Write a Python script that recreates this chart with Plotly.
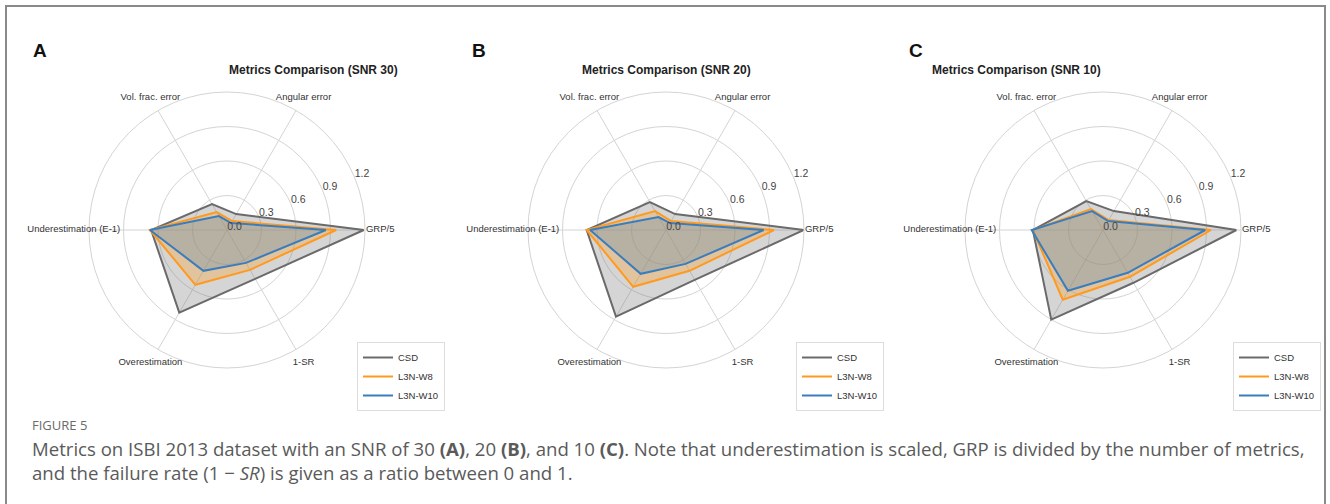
import plotly.graph_objects as go

categories = ["GRP/5", "Angular error", "Vol. frac. error", "Underestimation (E-1)", "Overestimation", "1-SR"]
methods = ["CSD", "L3N-W8", "L3N-W10"]

# SNR 30 (A)
snr30_csd = [1.19, 0.16, 0.26, 0.66, 0.83, 0.49]
snr30_w8 = [0.95, 0.09, 0.18, 0.67, 0.55, 0.40]
snr30_w10 = [0.86, 0.07, 0.14, 0.67, 0.41, 0.33]
# SNR 20 (B)
snr20_csd = [1.20, 0.16, 0.28, 0.69, 0.87, 0.50]
snr20_w8 = [0.94, 0.09, 0.19, 0.69, 0.57, 0.41]
snr20_w10 = [0.85, 0.07, 0.13, 0.66, 0.44, 0.34]
# SNR 10 (C)
snr10_csd = [1.16, 0.19, 0.29, 0.61, 0.90, 0.53]
snr10_w8 = [0.94, 0.10, 0.21, 0.61, 0.70, 0.47]
snr10_w10 = [0.89, 0.09, 0.19, 0.62, 0.61, 0.43]

panel_titles = ["Metrics Comparison (SNR 30)", "Metrics Comparison (SNR 20)", "Metrics Comparison (SNR 10)"]
panel_letters = ["A", "B", "C"]
radial_ticks = [0.0, 0.3, 0.6, 0.9, 1.2]
radial_ticktext = ["0.0", "0.3", "0.6", "0.9", "1.2"]
r_max = 1.2
label_r = r_max * 1.11          # category labels centred just outside the outer ring
rlabel_angle = 22.5             # radial tick labels direction (degrees)
rlabel_pad = 0.07               # radial tick labels offset beyond their ring
overlay_max = 1.35

panels = [
    [snr30_csd, snr30_w8, snr30_w10],
    [snr20_csd, snr20_w8, snr20_w10],
    [snr10_csd, snr10_w8, snr10_w10],
]

line_colors = ["#6a6a6a", "#ff9a1f", "#3a7dbd"]
fill_colors = ["rgba(128,128,128,0.33)", "rgba(255,154,31,0.30)", "rgba(58,125,189,0.25)"]

W, H = 1330, 504
centers_x = [227, 666, 1103]
center_y = 230
R = 138
FONT = "Liberation Sans, Arial, sans-serif"

fig = go.Figure()
polar_names = ["polar", "polar2", "polar3"]
overlay_names = ["polar4", "polar5", "polar6"]
legend_names = ["legend", "legend2", "legend3"]
cat_angles = [i * 360.0 / len(categories) for i in range(len(categories))]

for p, series in enumerate(panels):
    for m, vals in enumerate(series):
        r = list(vals) + [vals[0]]
        th = categories + [categories[0]]
        fig.add_trace(go.Scatterpolar(
            r=r, theta=th, subplot=polar_names[p], mode="lines",
            fill="toself", fillcolor=fill_colors[m], line=dict(width=0, color=line_colors[m]),
            showlegend=False, hoverinfo="skip"))
        fig.add_trace(go.Scatterpolar(
            r=r, theta=th, subplot=polar_names[p], mode="lines",
            line=dict(width=2, color=line_colors[m]), name=methods[m],
            legend=legend_names[p], showlegend=True))
    # category labels (overlay polar with a larger range)
    fig.add_trace(go.Scatterpolar(
        r=[label_r] * len(categories), theta=cat_angles, subplot=overlay_names[p],
        mode="text", text=categories, textposition="middle center", cliponaxis=False,
        textfont=dict(family=FONT, size=9.5, color="#333333"),
        showlegend=False, hoverinfo="skip"))
    # radial tick labels
    fig.add_trace(go.Scatterpolar(
        r=[t + rlabel_pad for t in radial_ticks], theta=[rlabel_angle] * len(radial_ticks),
        subplot=overlay_names[p], mode="text", text=radial_ticktext,
        textposition="middle center", cliponaxis=False,
        textfont=dict(family=FONT, size=10.5, color="#444444"),
        showlegend=False, hoverinfo="skip"))

layout = dict(
    width=W, height=H, margin=dict(l=0, r=0, t=0, b=0),
    paper_bgcolor="white", plot_bgcolor="white",
    font=dict(family=FONT),
)
annotations = []
for p in range(3):
    cx = centers_x[p]
    layout[polar_names[p]] = dict(
        domain=dict(x=[(cx - R) / W, (cx + R) / W],
                    y=[(H - center_y - R) / H, (H - center_y + R) / H]),
        bgcolor="white",
        radialaxis=dict(range=[0, r_max], tickvals=radial_ticks, showticklabels=False,
                        showline=False, ticks="", gridcolor="#d4d4d4", gridwidth=1),
        angularaxis=dict(direction="counterclockwise", rotation=0, ticks="",
                         gridcolor="#d4d4d4", linecolor="#d4d4d4", showline=True,
                         showticklabels=False),
    )
    Ro = R * overlay_max / r_max
    layout[overlay_names[p]] = dict(
        domain=dict(x=[(cx - Ro) / W, (cx + Ro) / W],
                    y=[(H - center_y - Ro) / H, (H - center_y + Ro) / H]),
        bgcolor="rgba(0,0,0,0)",
        radialaxis=dict(range=[0, overlay_max], visible=False),
        angularaxis=dict(direction="counterclockwise", rotation=0, visible=False),
    )
    layout[legend_names[p]] = dict(
        x=(cx + 130) / W, y=(H - 342) / H, xanchor="left", yanchor="top",
        bgcolor="white", bordercolor="#dddddd", borderwidth=1,
        font=dict(family=FONT, size=9.5, color="#333333"),
        tracegroupgap=0, itemwidth=30,
    )
    annotations.append(dict(text="<b>" + panel_titles[p] + "</b>", x=cx / W, y=(H - 70) / H,
                            xref="paper", yref="paper", showarrow=False, yanchor="middle",
                            font=dict(family=FONT, size=12, color="#222222")))
    annotations.append(dict(text="<b>" + panel_letters[p] + "</b>", x=(cx - 196) / W, y=(H - 51) / H,
                            xref="paper", yref="paper", showarrow=False, xanchor="left", yanchor="middle",
                            font=dict(family=FONT, size=19, color="#111111")))

cap_font = dict(family="Open Sans, sans-serif", size=18.6, color="#5a5a5a")
annotations.append(dict(text="FIGURE 5", x=30 / W, y=(H - 425) / H, xref="paper", yref="paper",
                        xanchor="left", yanchor="middle", showarrow=False,
                        font=dict(family="Open Sans, sans-serif", size=13, color="#6a6a6a")))
annotations.append(dict(
    text="Metrics on ISBI 2013 dataset with an SNR of 30 <b>(A)</b>, 20 <b>(B)</b>, and 10 <b>(C)</b>. Note that underestimation is scaled, GRP is divided by the number of metrics,",
    x=30 / W, y=(H - 448) / H, xref="paper", yref="paper", xanchor="left", yanchor="middle",
    showarrow=False, font=cap_font))
annotations.append(dict(
    text="and the failure rate (1 \u2212 <i>SR</i>) is given as a ratio between 0 and 1.",
    x=30 / W, y=(H - 472) / H, xref="paper", yref="paper", xanchor="left", yanchor="middle",
    showarrow=False, font=cap_font))
layout["annotations"] = annotations
layout["shapes"] = [dict(type="rect", xref="paper", yref="paper", x0=6 / W, x1=1325 / W,
                         y0=-0.1, y1=(H - 6) / H, line=dict(color="#8a8a8a", width=2))]
fig.update_layout(**layout)
fig.write_html("out.html")
